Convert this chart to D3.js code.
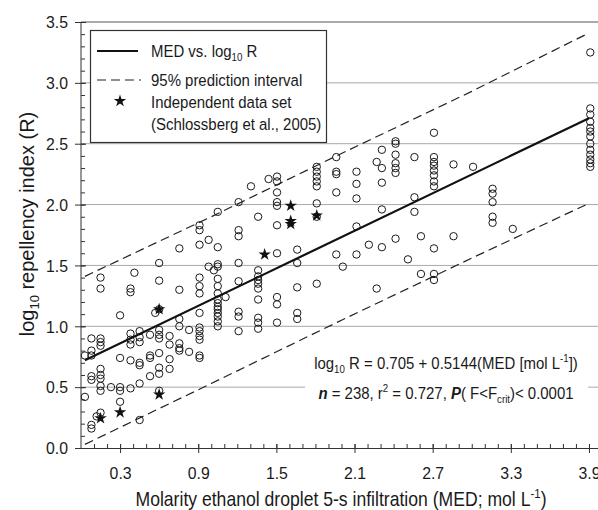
<!DOCTYPE html>
<html>
<head>
<meta charset="utf-8">
<script src="https://cdnjs.cloudflare.com/ajax/libs/d3/7.8.5/d3.min.js"></script>
<style>
body { margin: 0; background: #fff; }
text { font-family: "Liberation Sans", Arial, Helvetica, sans-serif; fill: #1a1a1a; }
</style>
</head>
<body>
<svg id="chart" width="598" height="510"></svg>
<script>
// MED columns (mol/L) and the log10 R values plotted at each of them
var medCols = [0.03, 0.08, 0.12, 0.15, 0.23, 0.30, 0.38, 0.41, 0.45, 0.53, 0.57, 0.60, 0.68, 0.755, 0.83,
               0.91, 0.98, 1.02, 1.05, 1.11, 1.21, 1.305, 1.36, 1.44, 1.505, 1.66, 1.81, 1.96, 2.01, 2.115,
               2.21, 2.27, 2.31, 2.415, 2.51, 2.56, 2.61, 2.71, 2.86, 3.01, 3.16, 3.315, 3.91];
var logRCols = [
    [0.76, 0.42],
    [0.90, 0.80, 0.76, 0.59, 0.56, 0.19, 0.16],
    [0.26],
    [1.40, 1.31, 0.90, 0.87, 0.84, 0.65, 0.60, 0.57, 0.51, 0.47, 0.29],
    [0.50],
    [1.09, 0.74, 0.50, 0.47, 0.38],
    [1.31, 1.28, 0.94, 0.89, 0.85, 0.72, 0.49],
    [1.44],
    [0.96, 0.91, 0.87, 0.70, 0.68, 0.53, 0.23],
    [0.93, 0.76, 0.74, 0.59],
    [1.11],
    [1.52, 1.375, 1.14, 0.97, 0.93, 0.90, 0.78, 0.66, 0.61, 0.47],
    [0.92, 0.85, 0.73, 0.65],
    [1.64, 1.30, 1.06, 1.00, 0.86, 0.82, 0.80],
    [0.97, 0.79],
    [1.83, 1.79, 1.67, 1.40, 1.33, 1.27, 1.11, 0.99, 0.96, 0.92, 0.89, 0.76, 0.74],
    [1.71, 1.49],
    [1.46],
    [1.94, 1.65, 1.51, 1.49, 1.39, 1.33, 1.27, 1.22, 1.19, 1.16, 1.14, 1.11, 1.08, 1.04, 1.00],
    [1.24],
    [2.02, 1.79, 1.74, 1.52, 1.37, 1.12, 1.08, 0.96],
    [2.15],
    [1.90, 1.46, 1.41, 1.38, 1.35, 1.31, 1.22, 1.07, 1.03, 0.98],
    [2.21],
    [2.23, 2.19, 2.10, 2.02, 1.99, 1.83, 1.60, 1.24, 1.18, 1.03],
    [1.63, 1.52, 1.32, 1.11, 1.06],
    [2.31, 2.27, 2.23, 2.19, 2.15, 2.01, 1.90, 1.35],
    [2.39, 2.27, 2.25, 2.10, 1.59],
    [1.49],
    [2.27, 2.17, 2.05, 1.82, 1.59],
    [1.67],
    [2.35, 1.31],
    [2.45, 2.30, 2.18, 1.96, 1.65],
    [2.52, 2.50, 2.41, 2.34, 2.30, 2.26, 1.72],
    [1.55],
    [2.39, 2.06, 1.94],
    [1.74, 1.43],
    [2.59, 2.39, 2.35, 2.32, 2.28, 2.24, 2.19, 2.15, 1.64, 1.43, 1.38],
    [2.33, 1.74],
    [2.31],
    [2.13, 2.09, 2.02, 1.90, 1.85],
    [1.80],
    [3.25, 2.79, 2.74, 2.68, 2.63, 2.60, 2.56, 2.50, 2.45, 2.41, 2.37, 2.34, 2.31]
];

// independent data set (Schlossberg et al., 2005)
var starMED  = [0.15, 0.30, 0.60, 0.60, 1.41, 1.61, 1.61, 1.61, 1.81];
var starLogR = [0.245, 0.293, 0.44, 1.14, 1.59, 1.99, 1.865, 1.84, 1.91];

// fitted line and 95% prediction interval
var regMED  = [0.03, 3.9];
var regLogR = [0.72, 2.71];
var piMED   = [0.03, 1.0, 2.0, 3.0, 3.9];
var piUpper = [1.41, 1.90, 2.42, 2.93, 3.41];
var piLower = [0.03, 0.53, 1.05, 1.56, 2.01];

var xTicks = [0.3, 0.9, 1.5, 2.1, 2.7, 3.3, 3.9];
var yTicks = [0.0, 0.5, 1.0, 1.5, 2.0, 2.5, 3.0, 3.5];
var gridVals = [0.5, 1.0, 1.5, 2.0, 2.5, 3.0];

var svg = d3.select("#chart");
var x = d3.scaleLinear().domain([0, 4]).range([81, 602]);
var y = d3.scaleLinear().domain([0, 3.5]).range([448, 22]);

// small helper: narrow-looking text
function label(px, py, size, sx, anchor) {
    return svg.append("text")
        .attr("transform", "translate(" + px + "," + py + ") scale(" + sx + ",1)")
        .attr("font-size", size)
        .attr("text-anchor", anchor || "start");
}

// grid
svg.append("g").selectAll("line").data(gridVals).enter().append("line")
    .attr("x1", x(0)).attr("x2", 598)
    .attr("y1", function(d){ return y(d); }).attr("y2", function(d){ return y(d); })
    .attr("stroke", "#a8a8a8").attr("stroke-width", 1);

// top frame
svg.append("line").attr("x1", x(0)).attr("x2", 598).attr("y1", y(3.5)).attr("y2", y(3.5))
    .attr("stroke", "#555").attr("stroke-width", 1.2);

// axes
var gy = svg.append("g").attr("transform", "translate(" + x(0) + ",0)")
    .call(d3.axisLeft(y).tickValues(yTicks).tickSize(6).tickSizeOuter(0).tickFormat(d3.format(".1f")));
gy.selectAll(".tick line").attr("x1", 5);
gy.selectAll(".tick text").attr("x", -14).attr("dy", "0.34em")
    .attr("font-size", 17).attr("transform", "scale(0.93,1)");
var gyMinor = svg.append("g").attr("transform", "translate(" + x(0) + ",0)")
    .call(d3.axisRight(y).tickValues(d3.range(0, 3.51, 0.1)).tickSize(4).tickFormat(""));
gyMinor.select(".domain").remove();

var gx = svg.append("g").attr("transform", "translate(0," + y(0) + ")")
    .call(d3.axisBottom(x).tickValues(xTicks).tickSize(5).tickSizeOuter(0).tickFormat(d3.format(".1f")));
gx.selectAll(".tick line").attr("y1", -4);
gx.selectAll(".tick text").attr("y", 31).attr("dy", 0)
    .attr("font-size", 17).attr("transform", "scale(0.93,1)");
var gxMinor = svg.append("g").attr("transform", "translate(0," + y(0) + ")")
    .call(d3.axisTop(x).tickValues(d3.range(0.1, 3.95, 0.1)).tickSize(4).tickFormat(""));
gxMinor.select(".domain").remove();
svg.selectAll(".domain, .tick line").attr("stroke", "#333");
gy.select(".domain").attr("d", "M0," + y(0) + "V" + y(3.5));

// prediction interval
var piLine = d3.line().x(function(d){ return x(d[0]); }).y(function(d){ return y(d[1]); });
[piUpper, piLower].forEach(function(arr) {
    svg.append("path").datum(piMED.map(function(m, i){ return [m, arr[i]]; }))
        .attr("d", piLine).attr("fill", "none")
        .attr("stroke", "#222").attr("stroke-width", 1.2).attr("stroke-dasharray", "9,5");
});

// observations
var pts = [];
medCols.forEach(function(m, i) {
    logRCols[i].forEach(function(v){ pts.push([m, v]); });
});
svg.append("g").selectAll("circle").data(pts).enter().append("circle")
    .attr("cx", function(d){ return x(d[0]); })
    .attr("cy", function(d){ return y(d[1]); })
    .attr("r", 3.7)
    .attr("fill", "none").attr("stroke", "#1a1a1a").attr("stroke-width", 1);

// regression
svg.append("path").datum(regMED.map(function(m, i){ return [m, regLogR[i]]; }))
    .attr("d", piLine).attr("fill", "none").attr("stroke", "#111").attr("stroke-width", 2.2);

// stars
var star = d3.symbol().type(d3.symbolStar).size(48);
svg.append("g").selectAll("path").data(starMED).enter().append("path")
    .attr("d", star)
    .attr("transform", function(d, i){ return "translate(" + x(d) + "," + y(starLogR[i]) + ")"; })
    .attr("fill", "#111");

// legend
svg.append("rect").attr("x", 90.5).attr("y", 30.5).attr("width", 236).attr("height", 112)
    .attr("fill", "#fff").attr("stroke", "#333").attr("stroke-width", 1.2);
svg.append("line").attr("x1", 97).attr("x2", 138).attr("y1", 51).attr("y2", 51)
    .attr("stroke", "#111").attr("stroke-width", 2.2);
svg.append("line").attr("x1", 97).attr("x2", 141).attr("y1", 80).attr("y2", 80)
    .attr("stroke", "#222").attr("stroke-width", 1.2).attr("stroke-dasharray", "9,5");
svg.append("path").attr("d", star).attr("transform", "translate(120,101)").attr("fill", "#111");

var t = label(151, 57, 17, 0.88);
t.append("tspan").text("MED vs. log");
t.append("tspan").attr("font-size", 11).attr("dy", 4).text("10");
t.append("tspan").attr("dy", -4).text(" R");
label(151, 86, 17, 0.88).text("95% prediction interval");
label(151, 108, 17, 0.88).text("Independent data set");
label(151, 130, 17, 0.88).text("(Schlossberg et al., 2005)");

// equation box
svg.append("rect").attr("x", 305).attr("y", 345).attr("width", 283).attr("height", 62).attr("fill", "#fff");
var e1 = label(446, 369, 17, 0.88, "middle");
e1.append("tspan").text("log");
e1.append("tspan").attr("font-size", 11).attr("dy", 4).text("10");
e1.append("tspan").attr("dy", -4).text(" R = 0.705 + 0.5144(MED [mol L");
e1.append("tspan").attr("font-size", 11).attr("dy", -7).text("-1");
e1.append("tspan").attr("dy", 7).text("])");
var e2 = label(446, 399, 17, 0.88, "middle");
e2.append("tspan").attr("font-style", "italic").attr("font-weight", "bold").text("n");
e2.append("tspan").text(" = 238, r");
e2.append("tspan").attr("font-size", 11).attr("dy", -7).text("2");
e2.append("tspan").attr("dy", 7).text(" = 0.727, ");
e2.append("tspan").attr("font-style", "italic").attr("font-weight", "bold").text("P");
e2.append("tspan").text("( F<F");
e2.append("tspan").attr("font-size", 11).attr("dy", 4).text("crit");
e2.append("tspan").attr("dy", -4).text(")< 0.0001");

// axis titles
var xt = label(341, 506, 20, 0.88, "middle");
xt.append("tspan").text("Molarity ethanol droplet 5-s infiltration (MED; mol L");
xt.append("tspan").attr("font-size", 13).attr("dy", -8).text("-1");
xt.append("tspan").attr("dy", 8).text(")");

var yt = svg.append("text")
    .attr("transform", "translate(34,224) rotate(-90)")
    .attr("font-size", 20).attr("text-anchor", "middle");
yt.append("tspan").text("log");
yt.append("tspan").attr("font-size", 13).attr("dy", 5).text("10");
yt.append("tspan").attr("dy", -5).text(" repellency index (R)");
</script>
</body>
</html>
